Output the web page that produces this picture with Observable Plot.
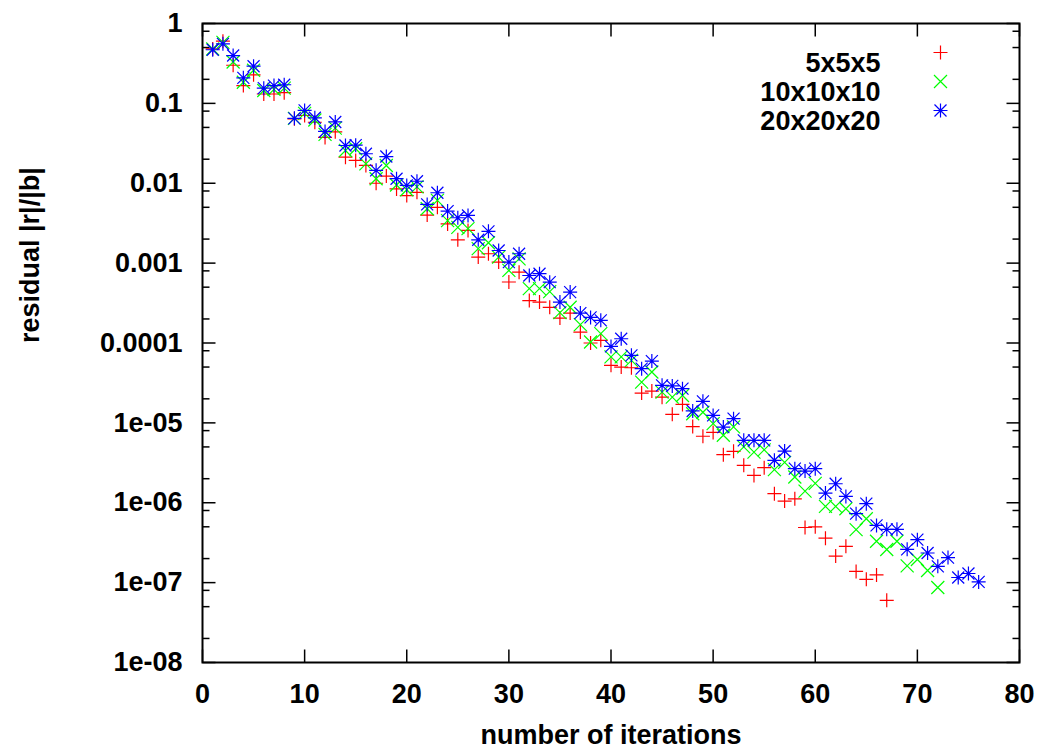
<!DOCTYPE html>
<html><head><meta charset="utf-8">
<script src="https://cdn.jsdelivr.net/npm/d3@7"></script>
<script src="https://cdn.jsdelivr.net/npm/@observablehq/plot@0.6"></script>
<style>body{margin:0;background:#fff}</style>
</head><body><div id="chart"></div>
<script>
const seriesNames = ["5x5x5", "10x10x10", "20x20x20"];
const seriesColors = ["#ff0000", "#00ff00", "#0000ff"];
const xLabel = "number of iterations";
const yLabel = "residual |r|/|b|";

// residual per iteration (iteration = index + 1)
const res5 = [0.48,0.60,0.30,0.167,0.228,0.131,0.131,0.136,0.064,0.0705,
  0.058,0.0375,0.044,0.0212,0.0193,0.0167,0.0100,0.0123,0.0085,0.0070,
  0.0077,0.0040,0.0050,0.0031,0.00196,0.00257,0.00119,0.00131,0.00103,0.00058,
  0.00077,0.00034,0.000325,0.00028,0.000205,0.000237,0.000137,0.000100,0.000108,5.25e-5,
  5.0e-5,4.9e-5,2.36e-5,2.5e-5,2.1e-5,1.28e-5,1.7e-5,9.0e-6,6.8e-6,7.6e-6,
  4.0e-6,4.4e-6,2.94e-6,2.2e-6,2.75e-6,1.3e-6,1.05e-6,1.12e-6,4.9e-7,5.0e-7,
  3.6e-7,2.15e-7,2.85e-7,1.38e-7,1.1e-7,1.25e-7,6.0e-8];
const res10 = [0.48,0.58,0.33,0.184,0.26,0.145,0.15,0.155,0.065,0.075,
  0.062,0.041,0.049,0.0257,0.027,0.0175,0.0114,0.0167,0.0095,0.0083,
  0.009,0.0048,0.0061,0.0034,0.0028,0.0027,0.00152,0.0018,0.00119,0.00081,
  0.00113,0.00048,0.00048,0.00044,0.00024,0.00028,0.00017,0.000103,0.000131,6.7e-5,
  6.7e-5,6.05e-5,3.24e-5,4.33e-5,2.43e-5,2.1e-5,2.2e-5,1.3e-5,1.36e-5,9.8e-6,
  7.0e-6,8.9e-6,5.0e-6,4.3e-6,4.6e-6,2.6e-6,3.2e-6,2.1e-6,1.4e-6,1.75e-6,
  9.0e-7,9.0e-7,8.4e-7,4.6e-7,6.3e-7,3.3e-7,2.6e-7,3.3e-7,1.62e-7,1.95e-7,
  1.42e-7,8.7e-8];
const res20 = [0.469,0.557,0.397,0.209,0.292,0.155,0.167,0.171,0.065,0.0816,
  0.066,0.0445,0.0585,0.0297,0.0300,0.0234,0.0145,0.0216,0.0114,0.0094,
  0.0106,0.00543,0.0076,0.00448,0.0037,0.00395,0.00196,0.0025,0.00144,0.00103,
  0.00131,0.0007,0.000737,0.000578,0.000325,0.000434,0.000237,0.000209,0.000192,9.06e-5,
  0.000113,7.0e-5,4.77e-5,5.94e-5,2.95e-5,2.9e-5,2.68e-5,1.41e-5,1.86e-5,1.24e-5,
  8.86e-6,1.13e-5,6.04e-6,6.04e-6,6.04e-6,3.4e-6,4.44e-6,2.67e-6,2.49e-6,2.67e-6,
  1.32e-6,1.73e-6,1.2e-6,7.3e-7,9.75e-7,5.2e-7,4.65e-7,4.65e-7,2.61e-7,3.45e-7,
  2.35e-7,1.6e-7,2.06e-7,1.16e-7,1.3e-7,1.02e-7];
const seriesValues = [res5, res10, res20];

const xTicks = [0, 10, 20, 30, 40, 50, 60, 70, 80];
const yTicks = [1, 0.1, 0.01, 0.001, 0.0001, 1e-5, 1e-6, 1e-7, 1e-8];
const yTickLabels = ["1", "0.1", "0.01", "0.001", "0.0001", "1e-05", "1e-06", "1e-07", "1e-08"];
const minorMantissas = [2, 5, 8];
const yMinorTicks = [];
for (const t of yTicks.slice(1)) for (const m of minorMantissas) yMinorTicks.push(m * t);

// symbols
const seg = (x0, y0, x1, y1) => ({draw(c) { c.moveTo(x0, y0); c.lineTo(x1, y1); }});
const symPlus = {draw(c) { c.moveTo(-7, 0); c.lineTo(7, 0); c.moveTo(0, -7); c.lineTo(0, 7); }};
const symCross = {draw(c) { c.moveTo(-6.5, -6.5); c.lineTo(6.5, 6.5); c.moveTo(-6.5, 6.5); c.lineTo(6.5, -6.5); }};
const symStar = {draw(c) {
  c.moveTo(-7, 0); c.lineTo(7, 0); c.moveTo(0, -7); c.lineTo(0, 7);
  c.moveTo(-6, -6); c.lineTo(6, 6); c.moveTo(-6, 6); c.lineTo(6, -6);
}};
const seriesSymbols = [symPlus, symCross, symStar];

const data = seriesValues.map((vals, s) => vals.map((v, i) => ({iter: i + 1, res: v, s})));

const marks = [];
// frame ticks (inward)
marks.push(Plot.dot(yTicks, {y: d => d, frameAnchor: "left", symbol: seg(0, 0, 13, 0), stroke: "black", strokeWidth: 1.5}));
marks.push(Plot.dot(yTicks, {y: d => d, frameAnchor: "right", symbol: seg(0, 0, -13, 0), stroke: "black", strokeWidth: 1.5}));
marks.push(Plot.dot(yMinorTicks, {y: d => d, frameAnchor: "left", symbol: seg(0, 0, 7, 0), stroke: "black", strokeWidth: 1.5}));
marks.push(Plot.dot(yMinorTicks, {y: d => d, frameAnchor: "right", symbol: seg(0, 0, -7, 0), stroke: "black", strokeWidth: 1.5}));
marks.push(Plot.dot(xTicks, {x: d => d, frameAnchor: "bottom", symbol: seg(0, 0, 0, -13), stroke: "black", strokeWidth: 1.5}));
marks.push(Plot.dot(xTicks, {x: d => d, frameAnchor: "top", symbol: seg(0, 0, 0, 13), stroke: "black", strokeWidth: 1.5}));

// data
data.forEach((d, s) => {
  marks.push(Plot.dot(d, {x: "iter", y: "res", symbol: seriesSymbols[s], stroke: seriesColors[s], fill: "none", strokeWidth: 1.2}));
});

marks.push(Plot.frame({stroke: "black", strokeWidth: 2}));
marks.push(Plot.axisY({ticks: yTicks, tickFormat: d => yTickLabels[yTicks.indexOf(d)], tickSize: 0, tickPadding: 20, label: null}));
marks.push(Plot.axisX({ticks: xTicks, tickSize: 0, tickPadding: 21, label: null}));
marks.push(Plot.text([xLabel], {frameAnchor: "bottom", dy: 81, text: d => d}));
marks.push(Plot.text([yLabel], {frameAnchor: "left", dx: -172, rotate: -90, text: d => d}));

// legend (inside the frame, top right)
seriesNames.forEach((name, s) => {
  marks.push(Plot.text([name], {frameAnchor: "top-right", dx: -139, dy: 29 + 29 * s, textAnchor: "end", text: d => d}));
  marks.push(Plot.dot([name], {frameAnchor: "top-right", dx: -79, dy: 29 + 29 * s, symbol: seriesSymbols[s], stroke: seriesColors[s], fill: "none", strokeWidth: 1.2}));
});

const chart = Plot.plot({
  width: 1048, height: 756,
  marginLeft: 202, marginRight: 29, marginTop: 23, marginBottom: 94,
  x: {domain: [0, 80]},
  y: {type: "log", domain: [1e-8, 1]},
  style: {fontFamily: "'Liberation Sans', Arial, Helvetica, sans-serif", fontWeight: "bold", fontSize: "27px", color: "black", background: "white"},
  marks
});
document.getElementById("chart").appendChild(chart);
</script>
</body></html>
